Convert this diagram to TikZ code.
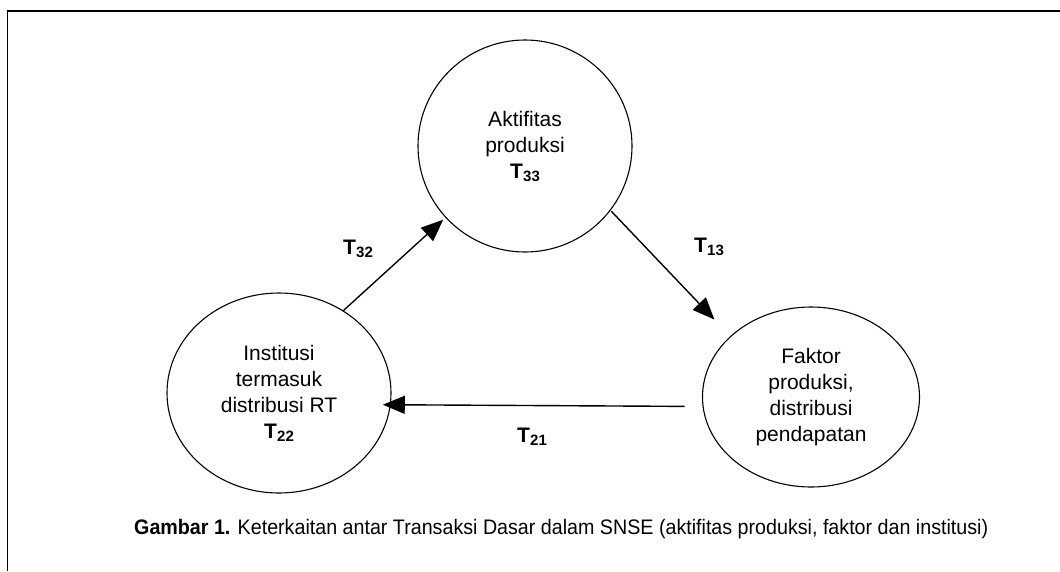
\documentclass[tikz,border=0pt]{standalone}
\usepackage{fontspec}
\setmainfont{Liberation Sans}
\usepackage{graphicx}
\usetikzlibrary{arrows.meta,shapes.geometric}
\newcommand{\Tlab}[1]{{\bfseries T\kern0.3pt\raisebox{-3pt}{\fontsize{15}{15}\selectfont\bfseries #1}}}
\tikzset{
  blob/.style={draw, ellipse, line width=1.1pt, inner sep=0pt, align=center,
    font=\fontsize{21}{26}\selectfont},
  flow/.style={draw, line width=1.4pt, -{Triangle[length=22pt,width=18pt]}},
  tlabel/.style={font=\fontsize{21}{26}\selectfont, inner sep=0pt},
  frameline/.style={line width=1.6pt}
}
\begin{document}
\begin{tikzpicture}[x=1pt,y=-1pt]
\useasboundingbox (0,0) rectangle (1060,571);
\coordinate (fr1) at (1060,10.8);
\coordinate (fr2) at (7.6,10.8);
\coordinate (fr3) at (7.6,571);
\draw[frameline] (fr1) -- (fr2) -- (fr3);

\node[blob, minimum width=214pt, minimum height=212pt] (A) at (525,146)
  {Aktifitas\\produksi\\\Tlab{33}};
\node[blob, minimum width=224pt, minimum height=200pt] (I) at (279,393)
  {Institusi\\termasuk\\distribusi RT\\\Tlab{22}};
\node[blob, minimum width=217pt, minimum height=180pt] (F) at (811,397)
  {Faktor\\produksi,\\distribusi\\pendapatan};

\draw[flow, shorten >=3pt] (I.52) -- (A.222);
\draw[flow, shorten <=1pt, shorten >=23pt] (A.-37) -- (F.143);
\draw[flow, shorten <=18pt, shorten >=-8pt] (F.185) -- (I.-6.5);

\node[tlabel] (t32) at (358,249) {\Tlab{32}};
\node[tlabel] (t13) at (709,247) {\Tlab{13}};
\node[tlabel] (t21) at (532,437) {\Tlab{21}};

\node[inner sep=0pt, anchor=base west] (cap) at (134,534)
  {\resizebox{854pt}{\height}{\fontsize{21}{25}\selectfont\textbf{Gambar 1.} Keterkaitan antar Transaksi Dasar dalam SNSE (aktifitas produksi, faktor dan institusi)}};
\end{tikzpicture}
\end{document}
